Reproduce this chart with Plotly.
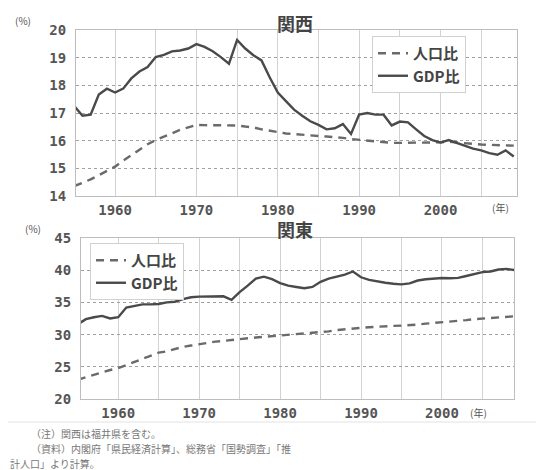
import plotly.graph_objects as go

# ---------------- data ----------------
years = list(range(1955, 2010))

kansai_pop = [14.36, 14.48, 14.60, 14.75, 14.90, 15.06, 15.28, 15.47, 15.67, 15.87,
              16.02, 16.14, 16.26, 16.39, 16.48, 16.57, 16.56, 16.56, 16.57, 16.57,
              16.55, 16.51, 16.48, 16.41, 16.36, 16.29, 16.26, 16.24, 16.21, 16.19,
              16.17, 16.15, 16.13, 16.10, 16.06, 16.03, 16.01, 15.98, 15.95, 15.92,
              15.92, 15.92, 15.92, 15.93, 15.93, 15.94, 15.96, 15.93, 15.90, 15.88,
              15.86, 15.85, 15.83, 15.83, 15.82]

kansai_gdp = [17.25, 16.90, 16.94, 17.67, 17.88, 17.74, 17.88, 18.25, 18.50, 18.66,
              19.02, 19.10, 19.23, 19.26, 19.33, 19.49, 19.39, 19.23, 19.02, 18.78,
              19.64, 19.33, 19.09, 18.90, 18.29, 17.74, 17.43, 17.12, 16.90, 16.70,
              16.57, 16.41, 16.45, 16.60, 16.24, 16.94, 17.00, 16.94, 16.94, 16.55,
              16.69, 16.66, 16.41, 16.17, 16.02, 15.93, 16.02, 15.92, 15.80, 15.71,
              15.65, 15.55, 15.49, 15.65, 15.43]

kanto_pop = [23.0, 23.4, 23.8, 24.2, 24.5, 24.8, 25.3, 25.8, 26.3, 26.8,
             27.2, 27.4, 27.8, 28.1, 28.3, 28.45, 28.7, 28.9, 29.05, 29.2,
             29.3, 29.45, 29.55, 29.65, 29.75, 29.85, 29.95, 30.05, 30.1, 30.2,
             30.3, 30.5, 30.7, 30.85, 30.95, 31.05, 31.15, 31.25, 31.3, 31.35,
             31.4, 31.45, 31.55, 31.7, 31.8, 31.85, 32.0, 32.15, 32.25, 32.4,
             32.5, 32.6, 32.7, 32.8, 32.85]

kanto_gdp = [31.6, 32.4, 32.7, 32.9, 32.5, 32.7, 34.2, 34.4, 34.7, 34.7,
             34.75, 35.0, 35.1, 35.5, 35.8, 35.9, 35.9, 35.95, 35.95, 35.4,
             36.6, 37.6, 38.7, 39.0, 38.6, 38.0, 37.6, 37.4, 37.2, 37.4,
             38.2, 38.7, 39.0, 39.3, 39.8, 38.9, 38.5, 38.25, 38.05, 37.9,
             37.8, 37.95, 38.4, 38.6, 38.7, 38.8, 38.75, 38.8, 39.1, 39.4,
             39.7, 39.8, 40.1, 40.2, 40.0]

x_tickvals = [1960, 1965, 1970, 1975, 1980, 1985, 1990, 1995, 2000, 2005]
x_ticktext = ["1960", "", "1970", "", "1980", "", "1990", "", "2000", ""]
top_yticks = [14, 15, 16, 17, 18, 19, 20]
bottom_yticks = [20, 25, 30, 35, 40, 45]

series_names = ["人口比", "GDP比"]
titles = ["関西", "関東"]
notes = ["（注）関西は福井県を含む。",
         "（資料）内閣府「県民経済計算」、総務省「国勢調査」「推",
         "計人口」より計算。"]

# ---------------- figure ----------------
# the page body has an 8px margin, so the figure is drawn 8px in from the window corner
OFF = 8
W, H = 544 - OFF, 470 - OFF
def px(x):
    return (x - OFF) / W
def py(y):
    return 1 - (y - OFF) / H

GDP_COLOR = "#4a4a4a"
POP_COLOR = "#6a6a6a"

fig = go.Figure()
fig.add_trace(go.Scatter(x=years, y=kansai_pop, mode="lines", name=series_names[0],
                         line=dict(color=POP_COLOR, width=2.4, dash="8px,6px"),
                         xaxis="x", yaxis="y", legend="legend"))
fig.add_trace(go.Scatter(x=years, y=kansai_gdp, mode="lines", name=series_names[1],
                         line=dict(color=GDP_COLOR, width=2.4),
                         xaxis="x", yaxis="y", legend="legend"))
fig.add_trace(go.Scatter(x=years, y=kanto_pop, mode="lines", name=series_names[0],
                         line=dict(color=POP_COLOR, width=2.4, dash="8px,6px"),
                         xaxis="x2", yaxis="y2", legend="legend2"))
fig.add_trace(go.Scatter(x=years, y=kanto_gdp, mode="lines", name=series_names[1],
                         line=dict(color=GDP_COLOR, width=2.4),
                         xaxis="x2", yaxis="y2", legend="legend2"))

tick_font = dict(family="DejaVu Sans Mono", size=14, color="#555555", weight="bold")

def xaxis(domain, rng, anchor):
    return dict(domain=domain, range=rng, anchor=anchor, automargin=False,
                tickvals=x_tickvals, ticktext=x_ticktext,
                showgrid=True, gridcolor="#d2d2d2", gridwidth=1,
                showline=True, mirror=True, linecolor="#bdbdbd", linewidth=1,
                zeroline=False, ticks="", tickfont=tick_font, ticklabelstandoff=1)

def yaxis(domain, rng, ticks, anchor):
    return dict(domain=domain, range=rng, anchor=anchor, tickvals=ticks, automargin=False,
                showgrid=True, gridcolor="#a0a0a0", griddash="dot", gridwidth=1,
                showline=True, mirror=True, linecolor="#bdbdbd", linewidth=1,
                zeroline=False, ticks="", tickfont=tick_font, ticklabelstandoff=6)

legend_common = dict(bgcolor="white", bordercolor="#d0d0d0", borderwidth=1,
                     font=dict(family="Noto Sans CJK JP", size=15, color="#444444", weight="bold"),
                     itemwidth=30, tracegroupgap=0, xanchor="left", yanchor="top",
                     traceorder="normal")

fig.update_layout(
    width=W, height=H,
    margin=dict(l=0, r=0, t=0, b=0, pad=0),
    paper_bgcolor="white", plot_bgcolor="white",
    showlegend=True,
    xaxis=xaxis([px(76), px(517)], [1955.2, 2009.4], "y"),
    yaxis=yaxis([py(196), py(30)], [14, 20], top_yticks, "x"),
    xaxis2=xaxis([px(81), px(514)], [1955.4, 2008.9], "y2"),
    yaxis2=yaxis([py(399), py(238)], [20, 45], bottom_yticks, "x2"),
    legend=dict(x=px(372), y=py(36), **legend_common),
    legend2=dict(x=px(90), y=py(243), **legend_common),
)

ann_font_title = dict(family="Noto Sans CJK JP", size=18, color="#444444", weight="bold")
small_font = dict(family="Noto Sans CJK JP", size=10, color="#555555")
note_font = dict(family="Noto Sans CJK JP", size=10, color="#777777")

annotations = [
    dict(text=titles[0], x=px(295), y=py(23), font=ann_font_title),
    dict(text=titles[1], x=px(295), y=py(229), font=ann_font_title),
    dict(text="(%)", x=px(23), y=py(20), font=small_font),
    dict(text="(%)", x=px(33), y=py(228), font=small_font),
    dict(text="(年)", x=px(500), y=py(207), font=small_font),
    dict(text="(年)", x=px(478), y=py(412), font=small_font),
    dict(text=notes[0], x=px(30), y=py(433.5), xanchor="left", font=note_font, borderpad=0),
    dict(text=notes[1], x=px(30), y=py(448.3), xanchor="left", font=note_font, borderpad=0),
    dict(text=notes[2], x=px(9), y=py(463), xanchor="left", font=note_font, borderpad=0),
]
for a in annotations:
    a.setdefault("xanchor", "center")
    a.setdefault("yanchor", "middle")
    a.update(xref="paper", yref="paper", showarrow=False)
fig.update_layout(annotations=annotations)

fig.add_shape(type="line", xref="paper", yref="paper", x0=0, x1=1, y0=py(422), y1=py(422),
              line=dict(color="#e2e2e2", width=1))

fig.write_html("out.html")
